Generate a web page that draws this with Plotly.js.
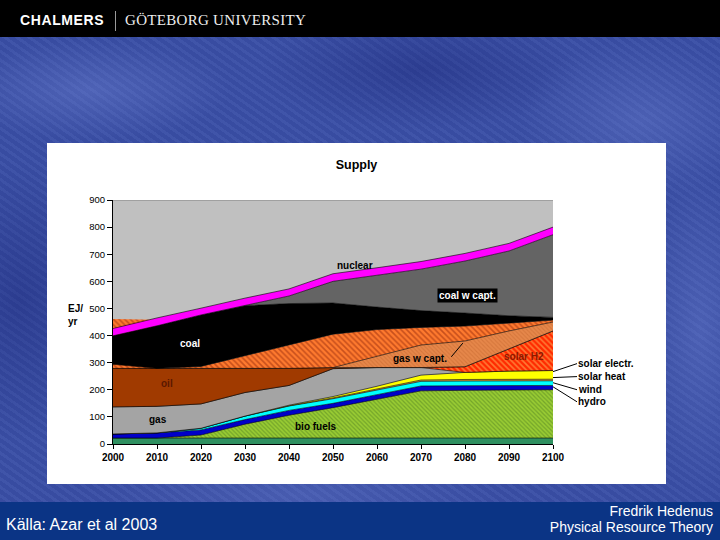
<!DOCTYPE html>
<html><head><meta charset="utf-8">
<script src="https://cdn.plot.ly/plotly-3.0.1.min.js"></script>
<style>
html,body{margin:0;padding:0;}
body{width:720px;height:540px;position:relative;overflow:hidden;font-family:Arial,"Liberation Sans",sans-serif;
background-color:#3a4fa6;
background-image:
 radial-gradient(ellipse 140px 50px at 90px 90px, rgba(120,140,220,0.35), transparent),
 radial-gradient(ellipse 160px 60px at 420px 70px, rgba(20,30,110,0.35), transparent),
 radial-gradient(ellipse 120px 80px at 640px 120px, rgba(120,140,220,0.3), transparent),
 radial-gradient(ellipse 100px 140px at 20px 300px, rgba(20,30,110,0.35), transparent),
 radial-gradient(ellipse 60px 160px at 700px 330px, rgba(120,140,220,0.3), transparent),
 radial-gradient(ellipse 200px 40px at 300px 495px, rgba(120,140,220,0.25), transparent),
 repeating-linear-gradient(35deg, rgba(255,255,255,0.03) 0 3px, rgba(0,0,40,0.04) 3px 7px);
}
#hdr{position:absolute;left:0;top:0;width:720px;height:37px;background:#000;}
#ch{position:absolute;left:20px;top:12px;color:#fff;font-weight:bold;font-size:14px;letter-spacing:0.6px;line-height:17px;}
#sep{position:absolute;left:115px;top:11px;width:1px;height:20px;background:#9a9a9a;}
#gu{position:absolute;left:125px;top:11px;color:#eee;font-family:"Liberation Serif","DejaVu Serif",serif;font-size:15px;line-height:18px;letter-spacing:0.3px;}
#box{position:absolute;left:47px;top:143px;width:619px;height:341px;background:#fff;}
#ftr{position:absolute;left:0;top:502px;width:720px;height:38px;background:#0b3485;}
#src{position:absolute;left:6px;top:14px;color:#fff;font-size:16px;line-height:18px;}
#auth{position:absolute;right:7px;top:1px;color:#fff;font-size:14px;line-height:16px;text-align:right;}
</style></head><body>
<div id="hdr"><div id="ch">CHALMERS</div><div id="sep"></div><div id="gu">GÖTEBORG UNIVERSITY</div></div>
<div id="box"></div>
<div id="ftr"><div id="src">Källa: Azar et al 2003</div><div id="auth">Fredrik Hedenus<br>Physical Resource Theory</div></div>
<script>
// Years
const years = [2000,2010,2020,2030,2040,2050,2060,2070,2080,2090,2100];
// Layer amounts (EJ/yr), bottom to top
const tradBiomass = [22,22,22,22,22,22,22,22,22,22,22];
const bioFuels    = [0,0,11,51,84,112,143,174,176,177,178];
const hydro       = [15,19,19,17,18,16,17,18,17,17,16];
const wind        = [0,0,6,13,16,17,17,17,17,17,17];
const solarHeat   = [0,0,0,0,1,3,4,5,6,6,6];
const solarElectr = [0,0,0,0,2,5,10,18,26,30,32];
const gas         = [100,98,90,87,73,103,69,28,0,0,0];
const solarH2     = [0,0,0,0,0,0,0,0,21,81,146];
const oil         = [142,140,131,89,63,4,0,0,0,0,0];
const gasCapt     = [0,0,0,0,0,0,41,83,95,67,33];
const otherCapt   = [15,0,7,46,85,123,99,65,55,28,7];
const coal        = [105,157,190,185,154,115,83,62,48,28,10];
const coalCapt    = [0,0,0,0,28,80,117,153,192,239,305];
const nuclear     = [27,29,25,28,26,28,28,28,28,28,28];
// back patch (visible above nuclear at the start)
const backYears = [2000,2010];
const backPatch = [461,458];
// tick labels
const xTicks = [2000,2010,2020,2030,2040,2050,2060,2070,2080,2090,2100];
const yTicks = [0,100,200,300,400,500,600,700,800,900];

const F = 'Arial, "Liberation Sans", sans-serif';
const orangePat = {shape:'\\', bgcolor:'#FF7A2E', fgcolor:'#C8501C', size:4, solidity:0.4};
const traces = [];
traces.push({x:backYears, y:backPatch, type:'scatter', mode:'lines', fill:'tozeroy',
  fillcolor:'#FF7A2E', fillpattern:orangePat,
  line:{width:0}, hoverinfo:'skip', showlegend:false});
function layer(name, vals, color, pat){
  const t = {name:name, x:years, y:vals, type:'scatter', mode:'lines', stackgroup:'s',
    fillcolor:color, line:{color:'#000', width:0.6}, hoverinfo:'skip', showlegend:false};
  if(pat){ t.fillpattern = pat; }
  return t;
}
traces.push(layer('trad', tradBiomass, '#2F9060'));
traces.push(layer('bio fuels', bioFuels, '#99CC33', {shape:'\\', bgcolor:'#99CC33', fgcolor:'#74A52A', size:3, solidity:0.4}));
traces.push(layer('hydro', hydro, '#0000C8'));
traces.push(layer('wind', wind, '#00FFFF'));
traces.push(layer('solar heat', solarHeat, '#D29A3C'));
traces.push(layer('solar electr.', solarElectr, '#FFFF00'));
traces.push(layer('gas', gas, '#A4A4A4'));
traces.push(layer('solar H2', solarH2, '#FF2A00', {shape:'\\', bgcolor:'#FF2A00', fgcolor:'#FF7A33', size:4, solidity:0.4}));
traces.push(layer('oil', oil, '#A03A00'));
traces.push(layer('gas w capt.', gasCapt, '#E6874A', {shape:'\\', bgcolor:'#E6874A', fgcolor:'#D6773C', size:3, solidity:0.35}));
traces.push(layer('capt', otherCapt, '#FF7A2E', orangePat));
traces.push(layer('coal', coal, '#000000'));
traces.push(layer('coal w capt.', coalCapt, '#555555', {shape:'.', bgcolor:'#3A3A3A', fgcolor:'#9A9A9A', size:2, solidity:0.5}));
traces.push(layer('nuclear', nuclear, '#FF00FF'));

function lab(x,y,t,o){ return Object.assign({x:x,y:y,xref:'x',yref:'y',text:t,showarrow:false,
  font:{family:F,size:10,color:'#000',weight:'bold'}}, o||{}); }
const rl = {showarrow:true, arrowhead:0, arrowwidth:1, arrowcolor:'#000', ax:24, xanchor:'left', yanchor:'middle', borderpad:0};
const annotations = [
  lab(2055,660,'nuclear'),
  lab(2080.5,546,'coal w capt.',{bgcolor:'#000',font:{family:F,size:10,color:'#fff',weight:'bold'},borderpad:1}),
  lab(2017.5,369,'coal',{font:{family:F,size:10,color:'#fff',weight:'bold'}}),
  lab(2012.3,225,'oil',{font:{family:F,size:10,color:'#5a1800',weight:'bold'}}),
  lab(2010.2,92,'gas'),
  lab(2046.1,63,'bio fuels'),
  lab(2069.8,314,'gas w capt.'),
  lab(2079.5,372,'',Object.assign({},rl,{text:' ',ax:-16,ay:19})),
  lab(2093.4,321,'solar H2',{font:{family:F,size:10,color:'#8B1A00',weight:'bold'}}),
  lab(2100,267,'solar electr.',Object.assign({},rl,{ay:-8})),
  lab(2100,245,'solar heat',Object.assign({},rl,{ay:-1})),
  lab(2100,226,'wind',Object.assign({},rl,{ay:7})),
  lab(2100,211,'hydro',Object.assign({},rl,{ay:15})),
  {xref:'paper',yref:'paper',x:-0.107,y:0.53,xanchor:'left',yanchor:'middle',align:'left',showarrow:false,
   text:'EJ/<br>yr',font:{family:F,size:10,color:'#000',weight:'bold'}}
];

const layout = {
  width:619, height:341,
  margin:{l:66, r:113, t:57, b:40},
  paper_bgcolor:'#ffffff', plot_bgcolor:'#C0C0C0',
  font:{family:F, color:'#000'},
  title:{text:'Supply', font:{family:F,size:12.5,weight:'bold',color:'#000'}, x:0.5, xref:'container', y:1-22/341, yref:'container', yanchor:'middle'},
  xaxis:{range:[2000,2100], tickvals:xTicks, ticktext:xTicks.map(String), ticks:'outside', ticklen:4, tickcolor:'#000',
    showline:true, linecolor:'#000', linewidth:1, showgrid:false, zeroline:false,
    tickfont:{family:F,size:10,weight:'bold',color:'#000'}, fixedrange:true},
  yaxis:{range:[0,900], tickvals:yTicks, ticktext:yTicks.map(String), ticks:'outside', ticklen:5, tickcolor:'#000',
    showline:true, linecolor:'#000', linewidth:1, showgrid:false, zeroline:false,
    tickfont:{family:F,size:9.5,color:'#000'}, fixedrange:true},
  shapes:[{type:'line', xref:'x', yref:'y', x0:2000, x1:2100, y0:900, y1:900, line:{color:'#808080', width:1}}],
  annotations:annotations,
  showlegend:false
};
Plotly.newPlot('box', traces, layout, {displayModeBar:false, staticPlot:true});
</script>
</body></html>
